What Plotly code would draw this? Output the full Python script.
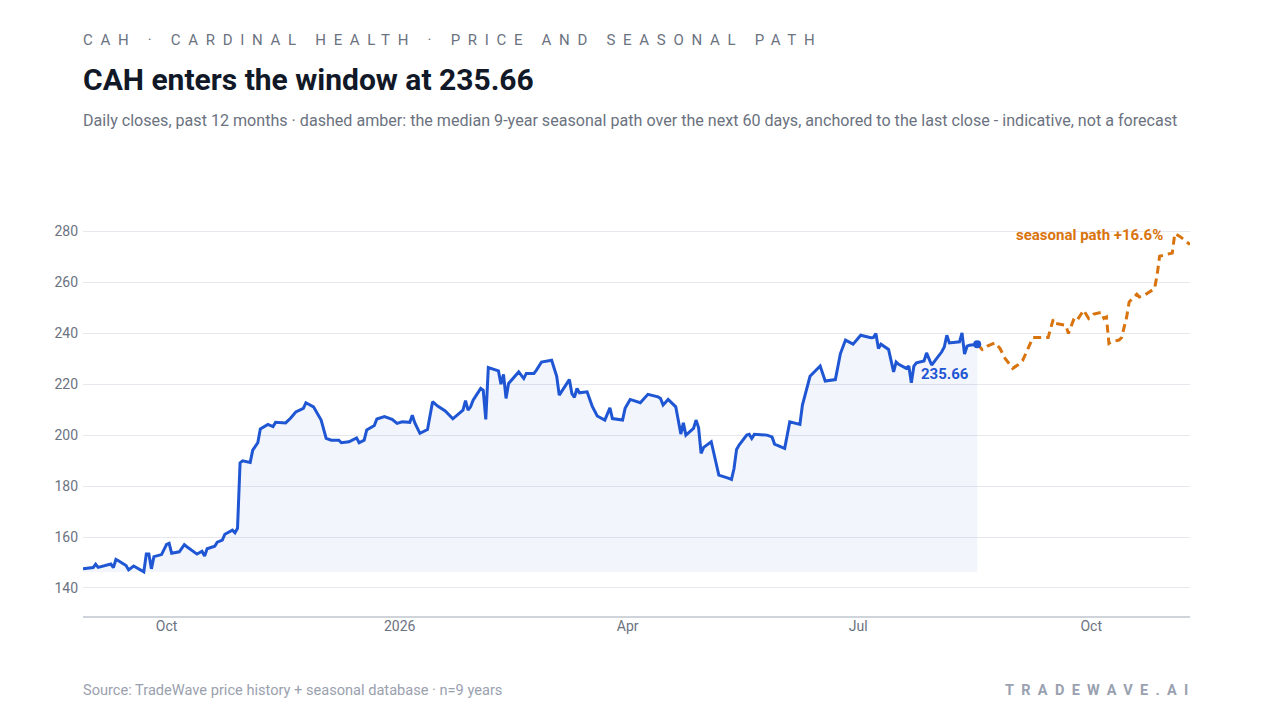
import plotly.graph_objects as go

# ---- data ----
hist_dates = [
 "2025-08-29","2025-09-02","2025-09-03","2025-09-04","2025-09-09","2025-09-10","2025-09-11","2025-09-12",
 "2025-09-15","2025-09-16","2025-09-18","2025-09-22","2025-09-23","2025-09-24","2025-09-25","2025-09-26",
 "2025-09-29","2025-10-01","2025-10-02","2025-10-03","2025-10-06","2025-10-08","2025-10-09","2025-10-13",
 "2025-10-15","2025-10-16","2025-10-17","2025-10-20","2025-10-21","2025-10-23","2025-10-24","2025-10-27",
 "2025-10-28","2025-10-29","2025-10-30","2025-10-31","2025-11-03","2025-11-04","2025-11-06","2025-11-07",
 "2025-11-10","2025-11-12","2025-11-13","2025-11-17","2025-11-19","2025-11-21","2025-11-24","2025-11-25",
 "2025-11-28","2025-12-01","2025-12-03","2025-12-05","2025-12-08","2025-12-09","2025-12-12","2025-12-15",
 "2025-12-16","2025-12-18","2025-12-19","2025-12-22","2025-12-23","2025-12-26","2025-12-29","2025-12-31",
 "2026-01-02","2026-01-05","2026-01-06","2026-01-07","2026-01-09","2026-01-12","2026-01-14","2026-01-16",
 "2026-01-19","2026-01-22","2026-01-26","2026-01-27","2026-01-28","2026-01-29","2026-01-30","2026-02-02",
 "2026-02-03","2026-02-04","2026-02-05","2026-02-09","2026-02-10","2026-02-11","2026-02-12","2026-02-13",
 "2026-02-17","2026-02-19","2026-02-20","2026-02-23","2026-02-24","2026-02-26","2026-03-02","2026-03-04",
 "2026-03-05","2026-03-09","2026-03-10","2026-03-11","2026-03-12","2026-03-13","2026-03-16","2026-03-18",
 "2026-03-20","2026-03-23","2026-03-25","2026-03-26","2026-03-30","2026-03-31","2026-04-02","2026-04-06",
 "2026-04-09","2026-04-13","2026-04-14","2026-04-15","2026-04-17","2026-04-20","2026-04-22","2026-04-23",
 "2026-04-24","2026-04-27","2026-04-28","2026-04-29","2026-04-30","2026-05-01","2026-05-04","2026-05-06",
 "2026-05-07","2026-05-11","2026-05-12","2026-05-13","2026-05-14","2026-05-15","2026-05-18","2026-05-19",
 "2026-05-20","2026-05-21","2026-05-26","2026-05-28","2026-05-29","2026-06-01","2026-06-02","2026-06-04",
 "2026-06-08","2026-06-09","2026-06-12","2026-06-16","2026-06-18","2026-06-22","2026-06-24","2026-06-26",
 "2026-06-29","2026-07-02","2026-07-06","2026-07-07","2026-07-08","2026-07-09","2026-07-10","2026-07-13",
 "2026-07-15","2026-07-16","2026-07-17","2026-07-20","2026-07-21","2026-07-22","2026-07-23","2026-07-24",
 "2026-07-27","2026-07-28","2026-07-30","2026-08-03","2026-08-04","2026-08-05","2026-08-06","2026-08-10",
 "2026-08-11","2026-08-12","2026-08-13","2026-08-14","2026-08-17",
]
hist_close = [
 147.5,148.0,149.3,148.1,149.4,148.0,151.2,150.7,
 148.8,147.1,148.6,146.3,153.3,153.3,147.5,152.3,
 153.1,157.1,157.5,153.6,154.2,157.0,156.2,153.3,
 154.4,152.5,155.4,156.4,158.0,158.8,161.1,162.7,
 161.7,163.4,189.1,189.9,189.3,194.1,197.0,202.4,
 204.2,203.3,205.0,204.8,206.7,209.1,210.5,212.7,
 211.1,205.9,198.7,198.0,198.0,197.0,197.4,198.9,
 197.0,198.0,202.0,203.8,206.3,207.3,206.2,204.6,
 205.2,205.0,207.8,204.8,200.7,202.2,213.1,211.4,
 209.5,206.4,209.8,213.5,209.8,211.1,213.7,218.3,
 217.6,206.2,226.5,225.2,220.0,223.8,214.4,220.3,
 224.8,222.2,224.2,224.2,225.5,228.7,229.4,223.1,
 215.7,221.8,216.3,214.8,218.3,216.6,217.0,211.4,
 207.5,205.9,210.7,206.5,205.9,210.5,214.0,212.7,
 216.0,215.0,214.4,211.8,214.0,211.1,200.4,204.8,
 200.0,202.6,205.9,203.0,192.8,195.2,197.4,188.9,
 184.3,183.0,182.6,186.9,194.4,196.1,200.0,200.3,
 198.7,200.3,200.0,199.3,196.5,195.2,194.8,205.2,
 204.2,211.8,223.1,227.1,221.2,221.8,232.0,237.3,
 235.7,239.2,238.2,238.3,239.9,234.0,235.7,233.6,
 224.8,228.7,227.8,226.2,227.1,220.5,227.1,228.4,
 229.1,232.3,227.5,232.7,234.6,239.2,236.2,236.6,
 240.1,231.8,234.9,235.3,235.66,
]
season_dates = [
 "2026-08-17","2026-08-19","2026-08-21","2026-08-24","2026-08-26","2026-08-28","2026-08-31","2026-09-02",
 "2026-09-04","2026-09-07","2026-09-08","2026-09-14","2026-09-15","2026-09-16","2026-09-17","2026-09-21",
 "2026-09-22","2026-09-24","2026-09-25","2026-09-28","2026-09-30","2026-10-02","2026-10-05","2026-10-06",
 "2026-10-07","2026-10-08","2026-10-09","2026-10-12","2026-10-13","2026-10-15","2026-10-16","2026-10-19",
 "2026-10-20","2026-10-22","2026-10-26","2026-10-27","2026-10-28","2026-11-02","2026-11-03","2026-11-05",
 "2026-11-09",
]
season_path = [
 235.66,233.6,234.9,236.2,234.0,230.1,226.2,227.5,
 229.4,236.0,238.3,238.3,241.8,245.4,243.8,243.1,
 239.9,245.1,244.4,249.0,245.8,247.5,248.2,245.8,
 246.4,236.0,236.6,237.3,238.3,246.4,252.3,255.3,
 254.2,254.9,257.5,262.7,270.2,271.5,279.1,278.0,
 274.8,
]
tick_dates = ["2025-10-01", "2026-01-01", "2026-04-01", "2026-07-01", "2026-10-01"]
tick_labels = ["Oct", "2026", "Apr", "Jul", "Oct"]
y_ticks = [140, 160, 180, 200, 220, 240, 260, 280]

BLUE = "#1f56d3"
AMBER = "#d9730d"
GRID = "#e6e8ee"
MUTED = "#6b7280"
LIGHT = "#9aa1ae"
FONT = "Roboto"

last = hist_close[-1]
pct = (season_path[-1] / last - 1) * 100
base = min(hist_close)

fig = go.Figure()
fig.add_trace(go.Scatter(x=hist_dates, y=[base] * len(hist_dates), mode="lines",
                         line=dict(width=0), hoverinfo="skip", showlegend=False))
fig.add_trace(go.Scatter(x=hist_dates, y=hist_close, mode="lines", fill="tonexty",
                         fillcolor="rgba(31,86,211,0.06)",
                         line=dict(color=BLUE, width=3), showlegend=False))
fig.add_trace(go.Scatter(x=season_dates, y=season_path, mode="lines",
                         line=dict(color=AMBER, width=3, dash="8px,5px"), showlegend=False))
fig.add_trace(go.Scatter(x=[hist_dates[-1]], y=[last], mode="markers",
                         marker=dict(color=BLUE, size=8), showlegend=False))

fig.add_annotation(x=hist_dates[-1], y=last, text=f"<b>{last:.2f}</b>", showarrow=False,
                   xanchor="right", yanchor="middle", xshift=-6, yshift=-30,
                   font=dict(family=FONT, size=15, color=BLUE))
fig.add_annotation(x=season_dates[-1], y=season_path[-1], text=f"<b>seasonal path +{pct:.1f}%</b>",
                   showarrow=False, xanchor="right", yanchor="middle", xshift=-25, yshift=10,
                   font=dict(family=FONT, size=15, color=AMBER))

fig.add_annotation(xref="paper", yref="paper", x=0, y=1.44, xanchor="left", yanchor="middle", xshift=-2,
                   text='<span style="letter-spacing:7.7px">CAH · CARDINAL HEALTH · PRICE AND SEASONAL PATH</span>',
                   showarrow=False, font=dict(family=FONT, size=15, color=MUTED))
fig.add_annotation(xref="paper", yref="paper", x=0, y=1.34, xanchor="left", yanchor="middle", xshift=-2,
                   text=f"<b>CAH enters the window at {last:.2f}</b>",
                   showarrow=False, font=dict(family=FONT, size=30, color="#111827"))
fig.add_annotation(xref="paper", yref="paper", x=0, y=1.2375, xanchor="left", yanchor="middle", xshift=-2,
                   text="Daily closes, past 12 months · dashed amber: the median 9-year seasonal path over the next 60 days, anchored to the last close - indicative, not a forecast",
                   showarrow=False, font=dict(family=FONT, size=16.1, color=MUTED))
fig.add_annotation(xref="paper", yref="paper", x=0, y=-0.185, xanchor="left", yanchor="middle", xshift=-2,
                   text="Source: TradeWave price history + seasonal database · n=9 years",
                   showarrow=False, font=dict(family=FONT, size=14.6, color=LIGHT))
fig.add_annotation(xref="paper", yref="paper", x=1, y=-0.185, xanchor="right", yanchor="middle", xshift=8,
                   text='<b><span style="letter-spacing:7.3px">TRADEWAVE.AI</span></b>',
                   showarrow=False, font=dict(family=FONT, size=14.5, color="#9aa1b0"))

fig.update_layout(
    width=1272, height=712,
    margin=dict(l=75, r=90, t=208, b=104),
    paper_bgcolor="white", plot_bgcolor="white",
    font=dict(family=FONT, color=MUTED, size=14),
    xaxis=dict(range=[hist_dates[0], season_dates[-1]], type="date",
               tickvals=tick_dates, ticktext=tick_labels, showgrid=False,
               showline=True, linecolor="#cfd3da", linewidth=1.5, ticks="",
               ticklabelstandoff=-4,
               tickfont=dict(size=14, color=MUTED), zeroline=False),
    yaxis=dict(range=[129, 286], tickvals=y_ticks, showgrid=True, gridcolor=GRID,
               gridwidth=1, zeroline=False, showline=False, ticks="",
               ticklabelstandoff=4,
               tickfont=dict(size=14, color=MUTED)),
    showlegend=False,
)

fig.write_html("out.html")
